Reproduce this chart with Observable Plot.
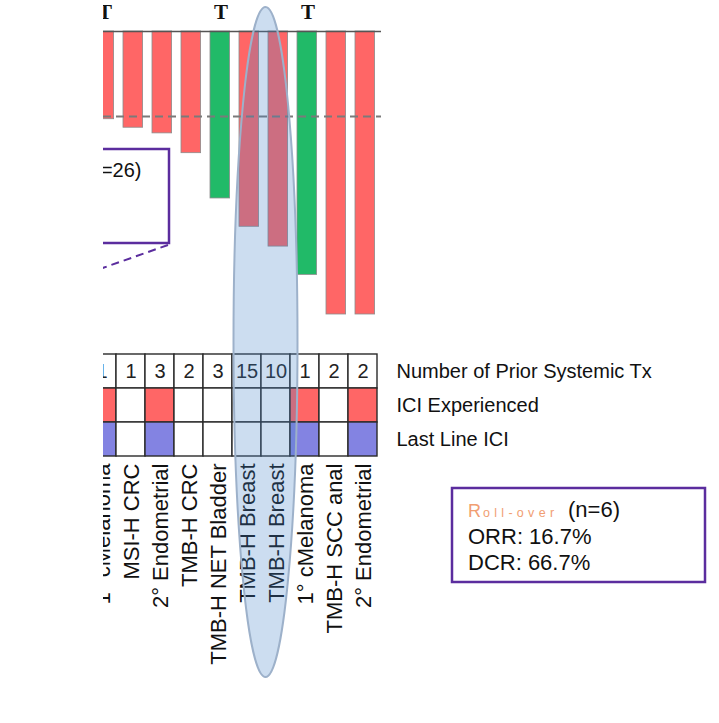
<!DOCTYPE html>
<html><head><meta charset="utf-8">
<script src="https://cdn.jsdelivr.net/npm/d3@7"></script>
<script src="https://cdn.jsdelivr.net/npm/@observablehq/plot@0.6"></script>
<style>
html,body{margin:0;padding:0;background:#fff;}
#chart{position:relative;width:719px;height:723px;overflow:hidden;font-family:"Liberation Sans",Arial,sans-serif;}
#chart svg{position:absolute;left:0;top:0;}
</style></head><body><div id="chart"></div>
<script>
// ---- data ----
const ids = [0, 1, 2, 3, 4, 5, 6, 7, 8, 9];
const tumorLabels = ["1° cMelanoma", "MSI-H CRC", "2° Endometrial", "TMB-H CRC", "TMB-H NET Bladder",
  "TMB-H Breast", "TMB-H Breast", "1° cMelanoma", "TMB-H SCC anal", "2° Endometrial"];
const pctChange = [-31, -34, -36, -43, -59, -69, -76, -86, -100, -100];
const barGroup = ["Group A", "Group A", "Group A", "Group A", "Group B", "Group A", "Group A", "Group B", "Group A", "Group A"];
const topMarker = [true, false, false, false, true, false, false, true, false, false];
const priorTx = [1, 1, 3, 2, 3, 15, 10, 1, 2, 2];
const iciExperienced = [1, 0, 1, 0, 0, 0, 0, 1, 0, 1];
const lastLineICI = [1, 0, 1, 0, 0, 0, 0, 1, 0, 1];
const rowLabels = ["Number of Prior Systemic Tx", "ICI Experienced", "Last Line ICI"];
const referenceLine = [-30];

const bars = ids.map((id, i) => ({id, label: tumorLabels[i], value: pctChange[i], group: barGroup[i], marker: topMarker[i]}));
const cells = [];
ids.forEach((id, i) => {
  cells.push({id, row: rowLabels[0], status: "none", n: priorTx[i]});
  cells.push({id, row: rowLabels[1], status: iciExperienced[i] ? "ICI" : "none"});
  cells.push({id, row: rowLabels[2], status: lastLineICI[i] ? "Last ICI" : "none"});
});

const W = 719, H = 723;
const FONT = '"Liberation Sans", Arial, sans-serif';
const xScale = {type: "band", domain: ids, range: [85.3, 379.3], padding: 0, axis: null};
const frame = {marginLeft: 103, marginRight: 338};
const chart = document.getElementById("chart");

// ---- waterfall bars ----
const barPlot = Plot.plot({
  width: W, height: 340, ...frame, marginTop: 0, marginBottom: 0,
  x: xScale,
  y: {domain: [-100, 0], range: [314, 31], axis: null},
  color: {domain: ["Group A", "Group B"], range: ["#FF6666", "#21BA68"]},
  style: {background: "transparent", fontFamily: FONT, overflow: "visible"},
  marks: [
    Plot.barY(bars, {x: "id", y: "value", fill: "group", stroke: "#8c8c8c", strokeWidth: 0.8, insetLeft: 7, insetRight: 2.4, clip: true}),
    Plot.ruleY(referenceLine, {stroke: "#7a7a7a", strokeWidth: 2, strokeDasharray: "8,5"}),
    Plot.ruleY([0], {stroke: "#555", strokeWidth: 1.6}),
    Plot.text(bars.filter(d => d.marker), {x: "id", y: 0, text: () => "T", dy: -19, dx: 3,
      fontFamily: '"Liberation Serif", "DejaVu Serif", serif', fontWeight: "bold", fontSize: 21, fill: "#111", clip: true})
  ]
});
chart.appendChild(barPlot);

// ---- table ----
const tablePlot = Plot.plot({
  width: W, height: H, ...frame, marginTop: 0, marginBottom: 0,
  x: xScale,
  y: {type: "band", domain: rowLabels, range: [352.7, 457.2], padding: 0, axis: null},
  color: {domain: ["ICI", "Last ICI", "none"], range: ["#FF6666", "#8383E2", "#FFFFFF"]},
  style: {background: "transparent", fontFamily: FONT, overflow: "visible"},
  marks: [
    Plot.cell(cells, {x: "id", y: "row", fill: "status", stroke: "#2a2a2a", strokeWidth: 1.4, clip: true}),
    Plot.text(cells.filter(d => d.row === rowLabels[0]), {x: "id", y: "row", text: "n", fontSize: 20, fill: "#222", clip: true}),
    Plot.text(rowLabels, {y: d => d, text: d => d, frameAnchor: "right", dx: 15, textAnchor: "start", fontSize: 20, fill: "#111"})
  ]
});
chart.appendChild(tablePlot);

// ---- category labels ----
const labelPlot = Plot.plot({
  width: W, height: H, ...frame, marginTop: 463, marginBottom: 0,
  x: xScale,
  style: {background: "transparent", fontFamily: FONT, overflow: "visible"},
  marks: [
    Plot.text(bars, {x: "id", text: "label", frameAnchor: "top", rotate: -90, textAnchor: "end", dx: -8, fontSize: 22, fill: "#111", clip: true})
  ]
});
chart.appendChild(labelPlot);

// ---- annotations (boxes, highlight ellipse) ----
const svg = d3.select(chart).append("svg").attr("width", W).attr("height", H)
  .style("font-family", FONT);
svg.append("clipPath").attr("id", "leftclip").append("rect").attr("x", 103).attr("y", 0).attr("width", W - 103).attr("height", H);
const purple = "#5B2D9E";
const lg = svg.append("g").attr("clip-path", "url(#leftclip)");
lg.append("rect").attr("x", 30).attr("y", 149).attr("width", 139).attr("height", 94)
  .attr("fill", "#fff").attr("stroke", purple).attr("stroke-width", 2.5);
lg.append("text").attr("x", 141.5).attr("y", 177).attr("text-anchor", "end").attr("font-size", 20).attr("fill", "#111").text("(n=26)");
lg.append("line").attr("x1", 168).attr("y1", 245).attr("x2", 60).attr("y2", 283)
  .attr("stroke", purple).attr("stroke-width", 2).attr("stroke-dasharray", "8,5");

const rb = svg.append("g");
rb.append("rect").attr("x", 452).attr("y", 488).attr("width", 253).attr("height", 94)
  .attr("fill", "#fff").attr("stroke", purple).attr("stroke-width", 2.5);
const t1 = rb.append("text").attr("x", 468).attr("y", 516.5).attr("font-size", 22).attr("fill", "#111");
t1.append("tspan").attr("fill", "#F19E72").attr("font-size", 18).text("R");
t1.append("tspan").attr("fill", "#F19E72").attr("font-size", 12.5).attr("letter-spacing", 4.3).attr("dx", 2).text("oll-over");
t1.append("tspan").attr("x", 568).text("(n=6)");
rb.append("text").attr("x", 468).attr("y", 543.5).attr("font-size", 22).attr("fill", "#111").text("ORR: 16.7%");
rb.append("text").attr("x", 468).attr("y", 570).attr("font-size", 22).attr("fill", "#111").text("DCR: 66.7%");

svg.append("ellipse").attr("cx", 265.5).attr("cy", 342).attr("rx", 32).attr("ry", 335)
  .attr("fill", "rgb(69,131,200)").attr("fill-opacity", 0.275)
  .attr("stroke", "#9DB1CA").attr("stroke-width", 2);
</script></body></html>
